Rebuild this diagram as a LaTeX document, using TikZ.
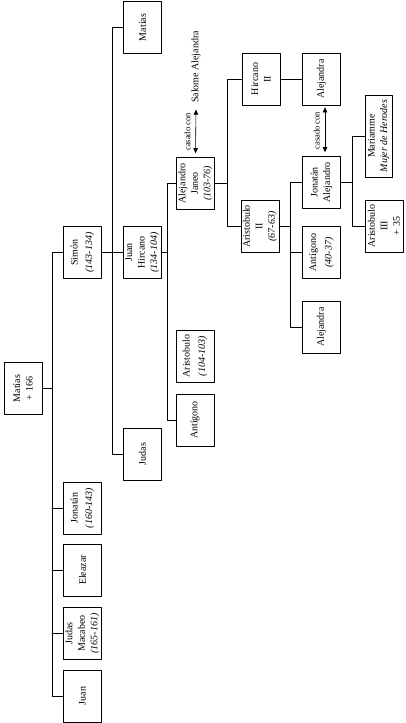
\documentclass[tikz,border=0pt]{standalone}
\usepackage{fontspec}
\setmainfont{Liberation Serif}
\usetikzlibrary{arrows.meta}

\tikzset{
  persona/.style={draw, rotate=90, align=center, inner sep=1pt,
    minimum width=52pt, minimum height=38pt, font=\fontsize{10}{12.5}\selectfont},
  casado/.style={rotate=90, inner sep=5pt, font=\fontsize{8.5}{10}\selectfont},
}

\begin{document}
\begin{tikzpicture}[line cap=round,line join=round,>={Triangle[length=5pt,width=4.5pt]},x=1pt,y=-1pt,semithick]
\useasboundingbox (0,0) rectangle (406,723);

% x of the vertical branch lines
\coordinate (s1) at (52,0);
\coordinate (s2) at (112,0);
\coordinate (s3) at (167,0);
\coordinate (s4) at (227,0);
\coordinate (s5) at (290,0);
\coordinate (s6) at (352,0);

\node[persona] (matias) at (23,388.5) {Matías\\+ 166};

\node[persona] (simon) at (82.5,252.5) {Simón\\[2pt]\textit{(143-134)}};
\node[persona] (jonatan) at (82.5,508) {Jonatán\\[2pt]\textit{(160-143)}};
\node[persona] (eleazar) at (82.5,570) {Eleazar};
\node[persona] (judasm) at (82.5,633.5) {Judas\\Macabeo\\\textit{(165-161)}};
\node[persona] (juan) at (82.5,696) {Juan};

\node[persona] (matiasb) at (142.5,27.5) {Matías};
\node[persona] (hircano) at (142.5,252.5) {Juan\\Hircano\\\textit{(134-104)}};
\node[persona] (judas) at (142.5,454) {Judas};

\node[persona] (janeo) at (195.5,183.5) {Alejandro\\Janeo\\\textit{(103-76)}};
\node[persona] (aristobulo) at (195,356) {Aristobulo\\[3pt]\textit{(104-103)}};
\node[persona] (antigono) at (195,420) {Antígono};

\node[persona] (hircanoII) at (261,79) {Hircano\\II};
\node[persona] (aristobuloII) at (260,226.5) {Aristobulo\\II\\\textit{(67-63)}};

\node[persona] (alejandraA) at (321.5,79) {Alejandra};
\node[persona] (jonatanA) at (321.5,182.5) {Jonatán\\Alejandro};
\node[persona] (antigonoB) at (321.5,252.5) {Antígono\\[3pt]\textit{(40-37)}};
\node[persona] (alejandraB) at (321.5,327) {Alejandra};

\node[persona, minimum width=82pt, minimum height=27pt, inner sep=0pt] (mariamme) at (378.5,136) {Mariamme\\\textit{Mujer de Herodes}};
\node[persona] (aristobuloIII) at (384,226) {Aristobulo\\III\\+ 35};

\node[rotate=90, font=\fontsize{10}{12}\selectfont] (salome) at (196,67) {Salome Alejandra};

% ramas
\draw (matias.south) -- (matias.south -| s1);
\draw (simon.north) -- (simon.north -| s1) -- (juan.north -| s1) -- (juan.north);
\foreach \n in {jonatan,eleazar,judasm}
  \draw (\n.north) -- (\n.north -| s1);

\draw (simon.south) -- (hircano.north);
\draw (matiasb.north) -- (matiasb.north -| s2) -- (judas.north -| s2) -- (judas.north);

\draw (hircano.south) -- (hircano.south -| s3);
\draw (janeo.north) -- (janeo.north -| s3) -- (antigono.north -| s3) -- (antigono.north);

\draw (janeo.south) -- (janeo.south -| s4);
\draw (hircanoII.north) -- (hircanoII.north -| s4) -- (aristobuloII.north -| s4) -- (aristobuloII.north);
\draw (hircanoII.south) -- (alejandraA.north);

\draw (aristobuloII.south) -- (aristobuloII.south -| s5);
\draw (jonatanA.north) -- (jonatanA.north -| s5) -- (alejandraB.north -| s5) -- (alejandraB.north);
\draw (antigonoB.north) -- (antigonoB.north -| s5);

\draw (jonatanA.south) -- (jonatanA.south -| s6);
\draw (mariamme.north) -- (mariamme.north -| s6) -- (aristobuloIII.north -| s6) -- (aristobuloIII.north);

% matrimonios
\draw[<->, shorten <=4pt, shorten >=3pt] (janeo.east) -- node[casado, anchor=south] (casado1) {casado con} (salome.west);
\draw[<->, shorten <=4pt, shorten >=2pt] ([xshift=3.5pt]jonatanA.east) -- node[casado, anchor=south] (casado2) {casado con} ([xshift=3.5pt]alejandraA.west);

\end{tikzpicture}
\end{document}
